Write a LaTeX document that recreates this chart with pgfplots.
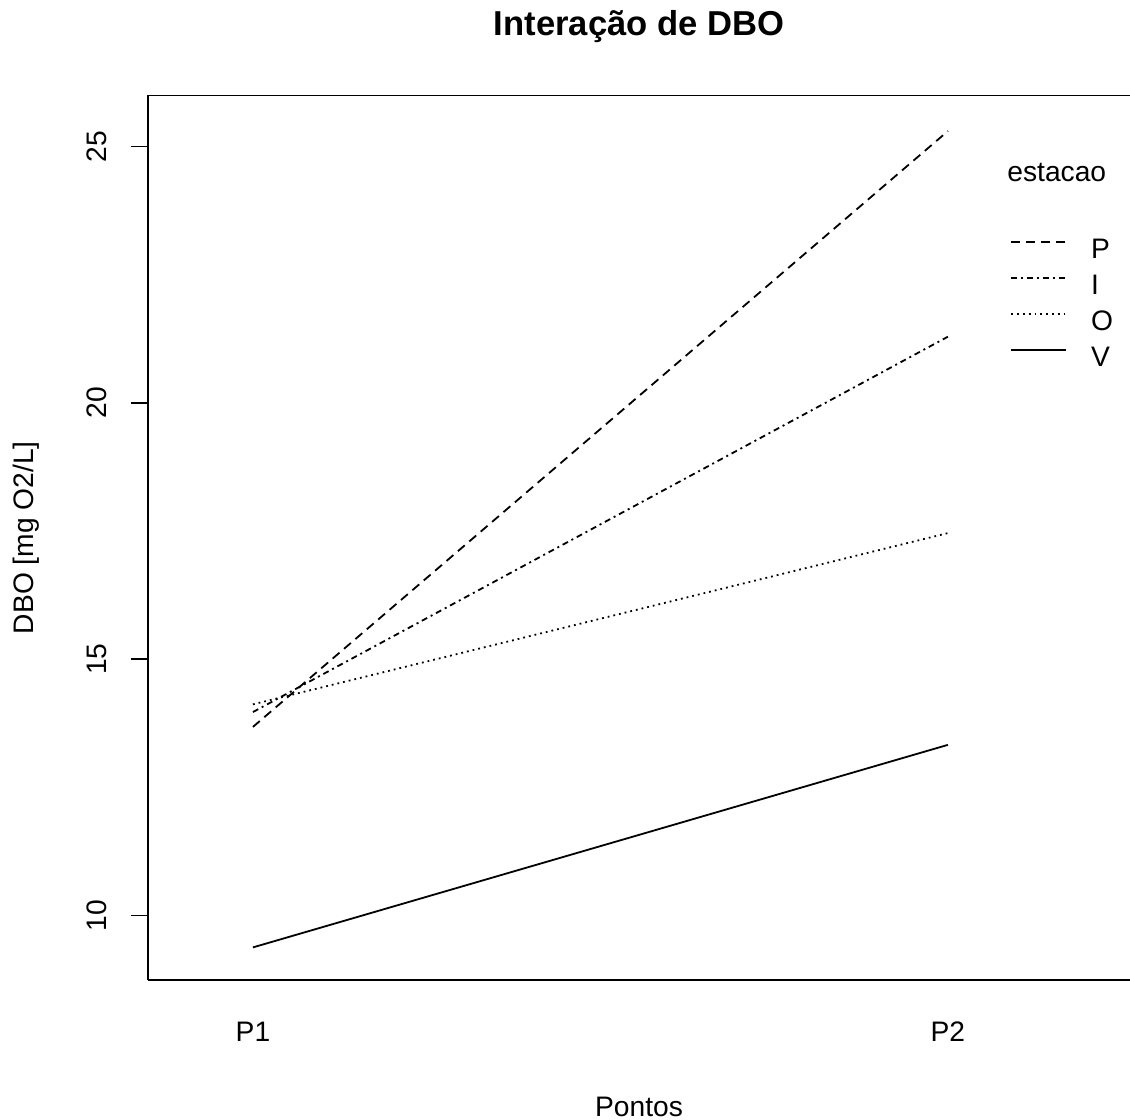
\documentclass[border=0pt]{standalone}
\usepackage{pgfplots}
\pgfplotsset{compat=1.18}
\usepackage{fontspec}
\setmainfont{Liberation Sans}
\newcommand{\fs}{\fontsize{14.1}{17}\selectfont}
\begin{document}
\begin{tikzpicture}
\begin{axis}[name=ax, scale only axis, width=491pt, height=442pt,
  xmin=0.849, xmax=2.262, ymin=8.75, ymax=25.99,
  axis x line*=bottom, axis y line*=left,
  axis line style={line width=0.8pt, black},
  xtick={1,2}, xticklabels={P1,P2}, xtick style={draw=none},
  ytick={10,15,20,25}, ytick style={line width=0.8pt, black},
  tick align=outside, major tick length=8.5pt,
  /pgf/number format/assume math mode=true,
  ticklabel style={font=\fs},
  yticklabel style={rotate=90, anchor=south, inner ysep=12pt, inner xsep=0pt},
  xticklabel style={anchor=north, inner ysep=12.5pt},
  title={Interação de DBO},
  title style={font=\fontsize{17.3}{21}\selectfont\bfseries, at={(axis description cs:0.5,1.0642)}, anchor=center},
  xlabel={Pontos},
  xlabel style={font=\fs, at={(axis description cs:0.5,-0.1437)}, anchor=center, inner sep=0pt},
  ylabel={DBO [mg O2/L]},
  ylabel style={font=\fs, at={(axis description cs:-0.1237,0.5)}, anchor=center, inner sep=0pt},
  legend style={draw=none, fill=none, at={(axis description cs:0.8778,0.8437)}, anchor=north west,
    inner sep=0pt, font=\fs, row sep=0pt, column sep=12pt,
    nodes={inner sep=0pt, text height=12pt, text depth=6pt}},
  legend cell align=left,
  legend image code/.code={\draw[#1] (0pt,5pt) -- (27.5pt,5pt);},
]
\addplot[black, line width=0.9pt, dash pattern=on 4.5pt off 3pt] coordinates {(1,13.68) (2,25.30)};
\addlegendentry{P}
\addplot[black, line width=0.9pt, dash pattern=on 3pt off 2pt on 1pt off 2pt] coordinates {(1,13.97) (2,21.29)};
\addlegendentry{I}
\addplot[black, line width=0.9pt, dash pattern=on 0.9pt off 2pt] coordinates {(1,14.12) (2,17.46)};
\addlegendentry{O}
\addplot[black, line width=0.9pt] coordinates {(1,9.38) (2,13.33)};
\addlegendentry{V}
\end{axis}
\draw[line width=0.8pt, black] ([xshift=-0.4pt]ax.north west) -- (ax.north east);
\node[font=\fs, anchor=west, inner sep=0pt] at ([xshift=429.5pt,yshift=-38.65pt]ax.north west) {estacao};
\pgfresetboundingbox
\path[use as bounding box] ([xshift=-74pt,yshift=-70pt]ax.south west) rectangle ([yshift=47.85pt]ax.north east);
\end{tikzpicture}
\end{document}
